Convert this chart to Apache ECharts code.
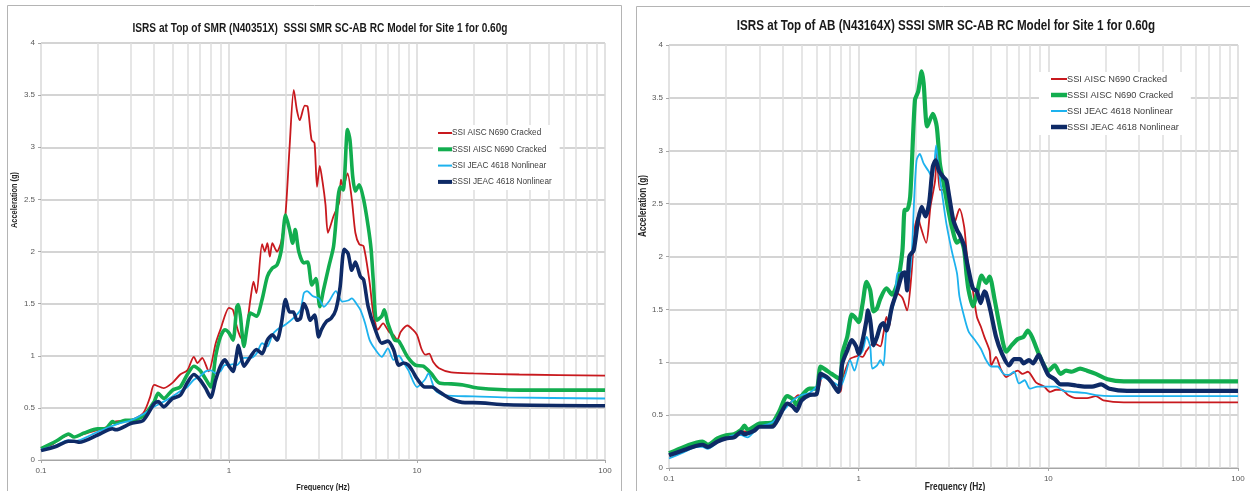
<!DOCTYPE html>
<html><head><meta charset="utf-8">
<script src="https://cdn.jsdelivr.net/npm/echarts@6/dist/echarts.min.js"></script>
<style>html,body{margin:0;padding:0;background:#fff;}#c{width:1250px;height:491px;}</style>
</head><body><div id="c"></div>
<script>
const seriesNames = ['SSI AISC N690 Cracked','SSSI AISC N690 Cracked','SSI JEAC 4618 Nonlinear','SSSI JEAC 4618 Nonlinear'];
const titleLeft = 'ISRS at Top of SMR (N40351X)  SSSI SMR SC-AB RC Model for Site 1 for 0.60g';
const titleRight = 'ISRS at Top of AB (N43164X) SSSI SMR SC-AB RC Model for Site 1 for 0.60g';
const xName = 'Frequency (Hz)';
const yName = 'Acceleration (g)';

// Left panel: [frequency Hz, acceleration g]
const leftSsiAisc = [[0.1,0.11],[0.115,0.15],[0.125,0.2],[0.14,0.24],[0.15,0.22],[0.17,0.25],[0.2,0.29],[0.22,0.31],[0.25,0.37],[0.3,0.38],[0.35,0.45],[0.38,0.6],[0.4,0.72],[0.45,0.69],[0.5,0.74],[0.55,0.82],[0.6,0.86],[0.65,0.99],[0.68,0.93],[0.72,0.98],[0.78,0.85],[0.85,1.12],[0.9,1.25],[1.0,1.46],[1.05,1.44],[1.1,1.28],[1.15,1.18],[1.2,1.15],[1.3,1.54],[1.35,1.71],[1.4,1.6],[1.5,2.07],[1.55,2.0],[1.6,2.08],[1.65,1.95],[1.7,2.08],[1.8,2.0],[1.9,2.1],[2.0,2.37],[2.1,3.0],[2.21,3.55],[2.3,3.35],[2.38,3.26],[2.53,3.40],[2.62,3.39],[2.75,3.07],[2.85,3.04],[2.94,2.62],[3.04,2.82],[3.15,2.66],[3.26,2.45],[3.36,2.18],[3.6,2.34],[3.85,2.47],[3.94,2.69],[4.05,2.62],[4.27,2.75],[4.5,2.5],[4.7,2.18],[4.93,2.07],[5.2,2.05],[5.6,1.7],[5.85,1.41],[6.2,1.25],[6.6,1.31],[7.1,1.23],[7.5,1.2],[7.85,1.15],[8.2,1.23],[8.9,1.29],[9.5,1.25],[10,1.2],[10.6,1.06],[11.1,1.01],[11.6,1.02],[12.2,0.94],[13.1,0.88],[15.2,0.84],[20,0.83],[35,0.82],[100,0.81]];
const leftSssiAisc = [[0.1,0.11],[0.12,0.18],[0.13,0.22],[0.14,0.25],[0.15,0.22],[0.17,0.26],[0.2,0.3],[0.22,0.3],[0.24,0.37],[0.25,0.35],[0.28,0.38],[0.3,0.38],[0.35,0.42],[0.4,0.56],[0.42,0.64],[0.45,0.59],[0.5,0.67],[0.55,0.7],[0.6,0.82],[0.65,0.9],[0.7,0.86],[0.75,0.78],[0.8,0.7],[0.85,1.0],[0.9,1.18],[0.95,1.25],[1.0,1.22],[1.05,1.15],[1.1,1.47],[1.12,1.49],[1.15,1.38],[1.2,1.09],[1.25,1.28],[1.3,1.41],[1.4,1.38],[1.5,1.54],[1.6,1.76],[1.7,1.84],[1.8,1.87],[1.9,2.02],[2.0,2.35],[2.1,2.21],[2.18,2.08],[2.25,2.21],[2.35,2.0],[2.5,1.89],[2.62,1.9],[2.76,1.68],[2.9,1.74],[3.04,1.47],[3.18,1.63],[3.4,1.86],[3.6,2.05],[3.9,2.62],[4.05,2.59],[4.27,3.17],[4.4,3.07],[4.55,2.72],[4.7,2.58],[4.93,2.64],[5.2,2.5],[5.5,2.24],[5.7,2.02],[5.85,1.73],[6.1,1.34],[6.5,1.38],[6.7,1.44],[7.0,1.31],[7.6,1.15],[8.0,1.14],[8.9,0.99],[9.8,0.91],[10.8,0.9],[11.9,0.83],[13.1,0.74],[15.2,0.73],[17.6,0.72],[21,0.69],[35,0.67],[100,0.67]];
const leftSsiJeac = [[0.1,0.1],[0.12,0.14],[0.14,0.19],[0.15,0.18],[0.2,0.27],[0.25,0.34],[0.3,0.38],[0.35,0.44],[0.4,0.51],[0.45,0.56],[0.5,0.61],[0.55,0.66],[0.6,0.7],[0.65,0.77],[0.7,0.8],[0.75,0.85],[0.8,0.86],[0.85,0.83],[0.9,0.85],[0.95,0.91],[1.0,0.91],[1.05,0.92],[1.1,0.91],[1.2,0.98],[1.3,0.98],[1.4,1.02],[1.5,1.12],[1.6,1.09],[1.7,1.2],[1.8,1.25],[2.0,1.3],[2.2,1.36],[2.4,1.44],[2.5,1.6],[2.6,1.62],[2.8,1.57],[3.0,1.55],[3.2,1.47],[3.4,1.52],[3.7,1.62],[4.0,1.52],[4.3,1.53],[4.5,1.55],[4.8,1.49],[5.0,1.44],[5.3,1.31],[5.6,1.15],[6.0,1.06],[6.5,0.99],[7.0,1.07],[7.5,0.96],[8.0,1.0],[8.5,0.93],[9,0.86],[10,0.7],[11,0.77],[11.5,0.83],[12.5,0.67],[14,0.62],[20,0.61],[30,0.6],[100,0.59]];
const leftSssiJeac = [[0.1,0.09],[0.12,0.13],[0.14,0.18],[0.15,0.18],[0.16,0.17],[0.2,0.24],[0.24,0.3],[0.25,0.29],[0.3,0.35],[0.35,0.38],[0.4,0.54],[0.42,0.56],[0.45,0.51],[0.5,0.59],[0.55,0.62],[0.6,0.74],[0.65,0.82],[0.7,0.77],[0.75,0.69],[0.8,0.6],[0.85,0.77],[0.9,0.9],[0.95,0.96],[1.0,0.9],[1.05,0.85],[1.1,1.02],[1.12,1.1],[1.15,1.02],[1.2,0.9],[1.3,0.99],[1.4,1.06],[1.5,1.02],[1.6,1.15],[1.7,1.2],[1.8,1.15],[1.9,1.31],[2.0,1.54],[2.1,1.42],[2.2,1.42],[2.3,1.34],[2.4,1.36],[2.5,1.5],[2.6,1.44],[2.7,1.34],[2.85,1.39],[3.0,1.18],[3.1,1.25],[3.3,1.33],[3.5,1.36],[3.7,1.44],[3.9,1.66],[4.1,2.02],[4.3,1.98],[4.5,1.82],[4.7,1.9],[5.0,1.76],[5.2,1.73],[5.5,1.47],[6.0,1.25],[6.5,1.12],[7.0,1.14],[7.5,1.06],[8.0,0.91],[8.5,0.93],[9,0.91],[9.5,0.85],[10,0.78],[11,0.7],[12,0.7],[13,0.66],[15,0.59],[18,0.55],[20,0.55],[30,0.53],[100,0.52]];

// Right panel: [frequency Hz, acceleration g]
const rightSsiAisc = [[0.1,0.12],[0.12,0.17],[0.14,0.21],[0.15,0.22],[0.16,0.2],[0.18,0.25],[0.2,0.28],[0.22,0.3],[0.24,0.35],[0.26,0.34],[0.3,0.39],[0.35,0.41],[0.4,0.55],[0.45,0.64],[0.48,0.69],[0.5,0.68],[0.55,0.69],[0.6,0.7],[0.65,0.88],[0.7,0.83],[0.8,0.72],[0.82,0.84],[0.9,1.03],[0.95,1.05],[1.0,1.06],[1.05,1.05],[1.1,1.11],[1.2,1.18],[1.3,1.15],[1.35,1.27],[1.4,1.43],[1.45,1.34],[1.5,1.54],[1.6,1.65],[1.7,1.61],[1.8,1.49],[1.9,1.84],[1.98,2.28],[2.06,2.38],[2.1,2.31],[2.27,2.13],[2.39,2.47],[2.53,2.72],[2.58,2.98],[2.68,2.63],[2.8,2.63],[2.95,2.5],[3.18,2.31],[3.4,2.45],[3.6,2.28],[3.7,2.06],[3.8,1.9],[4.0,1.68],[4.2,1.43],[4.4,1.34],[4.6,1.24],[4.9,1.11],[5.0,0.97],[5.3,1.05],[5.6,0.94],[6.0,0.86],[6.4,0.89],[6.9,0.92],[7.3,0.89],[7.8,0.91],[8.6,0.81],[9.5,0.77],[10.2,0.72],[11,0.74],[11.8,0.74],[12.7,0.69],[14,0.66],[16,0.66],[17.8,0.68],[19.5,0.64],[25,0.62],[100,0.62]];
const rightSssiAisc = [[0.1,0.14],[0.12,0.2],[0.14,0.24],[0.15,0.25],[0.16,0.22],[0.18,0.28],[0.2,0.31],[0.22,0.32],[0.24,0.36],[0.25,0.4],[0.26,0.36],[0.3,0.42],[0.35,0.43],[0.38,0.53],[0.42,0.68],[0.45,0.65],[0.47,0.6],[0.5,0.68],[0.55,0.75],[0.6,0.75],[0.63,0.96],[0.68,0.92],[0.72,0.89],[0.8,0.84],[0.82,1.08],[0.87,1.24],[0.92,1.45],[0.95,1.43],[1.0,1.38],[1.05,1.56],[1.1,1.76],[1.15,1.68],[1.2,1.48],[1.25,1.51],[1.3,1.6],[1.4,1.7],[1.5,1.64],[1.6,1.75],[1.7,2.05],[1.75,2.44],[1.8,2.44],[1.87,2.57],[1.98,3.48],[2.06,3.56],[2.15,3.75],[2.2,3.64],[2.3,3.23],[2.46,3.35],[2.58,3.23],[2.68,2.88],[2.8,2.7],[2.95,2.47],[3.1,2.28],[3.3,2.13],[3.45,2.16],[3.6,2.06],[3.7,1.84],[3.8,1.68],[4.0,1.53],[4.2,1.65],[4.45,1.82],[4.7,1.75],[4.9,1.81],[5.2,1.6],[5.6,1.3],[6.0,1.1],[6.4,1.16],[6.9,1.22],[7.4,1.24],[7.8,1.3],[8.2,1.24],[8.9,1.08],[9.5,0.97],[10,0.92],[10.8,0.97],[11.6,0.89],[12.4,0.92],[13.3,0.91],[14.7,0.94],[16,0.92],[17.8,0.89],[20.5,0.84],[25,0.82],[100,0.82]];
const rightSsiJeac = [[0.1,0.09],[0.12,0.15],[0.14,0.2],[0.15,0.2],[0.16,0.18],[0.18,0.24],[0.2,0.28],[0.22,0.31],[0.24,0.31],[0.26,0.29],[0.28,0.34],[0.3,0.39],[0.35,0.43],[0.4,0.54],[0.45,0.64],[0.5,0.69],[0.55,0.71],[0.6,0.77],[0.65,0.86],[0.7,0.83],[0.75,0.8],[0.8,0.77],[0.85,0.88],[0.9,1.02],[0.95,0.92],[1.0,1.05],[1.05,1.11],[1.1,1.24],[1.15,1.15],[1.18,0.94],[1.25,0.97],[1.3,1.02],[1.35,0.97],[1.4,1.3],[1.5,1.49],[1.55,1.59],[1.6,1.84],[1.7,1.85],[1.8,1.71],[1.9,2.0],[1.96,2.53],[2.02,2.91],[2.1,2.97],[2.2,2.88],[2.33,2.81],[2.44,2.75],[2.5,2.85],[2.56,3.05],[2.63,2.85],[2.75,2.6],[2.9,2.31],[3.1,2.05],[3.3,1.84],[3.4,1.62],[3.6,1.43],[3.8,1.29],[4.1,1.21],[4.4,1.13],[4.7,1.02],[5.0,0.96],[5.4,0.96],[5.8,0.89],[6.2,0.88],[6.6,0.91],[7.0,0.8],[7.5,0.83],[8.0,0.75],[8.8,0.77],[10,0.77],[11,0.77],[12,0.73],[13.3,0.72],[15.5,0.71],[17.8,0.69],[21.5,0.68],[100,0.68]];
const rightSssiJeac = [[0.1,0.12],[0.12,0.17],[0.14,0.21],[0.15,0.22],[0.16,0.2],[0.18,0.25],[0.2,0.28],[0.22,0.29],[0.24,0.34],[0.25,0.32],[0.28,0.35],[0.3,0.39],[0.35,0.39],[0.38,0.48],[0.42,0.61],[0.45,0.58],[0.47,0.54],[0.5,0.64],[0.55,0.69],[0.6,0.7],[0.63,0.89],[0.68,0.86],[0.72,0.81],[0.78,0.72],[0.82,0.99],[0.87,1.11],[0.92,1.21],[0.97,1.15],[1.0,1.08],[1.05,1.21],[1.1,1.4],[1.12,1.49],[1.15,1.4],[1.2,1.16],[1.25,1.24],[1.3,1.34],[1.35,1.37],[1.4,1.3],[1.5,1.53],[1.6,1.68],[1.7,1.84],[1.75,1.85],[1.8,1.68],[1.85,2.0],[1.95,2.06],[2.06,2.35],[2.15,2.47],[2.25,2.38],[2.35,2.5],[2.46,2.85],[2.55,2.91],[2.65,2.81],[2.8,2.75],[2.9,2.72],[3.0,2.57],[3.15,2.35],[3.3,2.25],[3.4,2.21],[3.6,2.1],[3.65,2.03],[3.8,1.87],[4.0,1.7],[4.2,1.67],[4.4,1.56],[4.6,1.67],[4.7,1.65],[4.95,1.49],[5.3,1.24],[5.7,1.08],[6.2,0.97],[6.6,1.03],[7.1,1.03],[7.4,0.99],[7.9,1.02],[8.3,0.99],[8.9,1.07],[9.3,1.0],[10,0.88],[10.8,0.84],[11.6,0.79],[12.7,0.79],[14,0.78],[15.5,0.77],[17,0.77],[19,0.79],[21,0.75],[26,0.73],[100,0.73]];

const colors = ['#C8191E','#12AD4F','#1DB2EE','#0E2A66'];
const leftData = [leftSsiAisc, leftSssiAisc, leftSsiJeac, leftSssiJeac];
const rightData = [rightSsiAisc, rightSssiAisc, rightSsiJeac, rightSssiJeac];
const leftWidths = [1.8, 3.6, 1.8, 3.6];
const rightWidths = [1.8, 4.2, 1.8, 4.2];

const FONT = '"Liberation Sans", Arial, sans-serif';

function xAxisCfg(gi) {
  return {
    type: 'log', logBase: 10, min: 0.1, max: 100, gridIndex: gi,
    axisLine: { show: true, onZero: false, lineStyle: { color: '#a6a6a6', width: 1 } },
    axisTick: { show: true, length: 3, lineStyle: { color: '#a6a6a6' } },
    axisLabel: { fontFamily: FONT, fontSize: 8, color: '#595959', margin: 7 },
    splitLine: { show: true, lineStyle: { color: '#d9d9d9', width: 1.5 } },
    minorTick: { show: false, splitNumber: 9 },
    minorSplitLine: { show: true, lineStyle: { color: '#dedede', width: 1.5 } }
  };
}
function yAxisCfg(gi) {
  return {
    type: 'value', min: 0, max: 4, interval: 0.5, gridIndex: gi,
    axisLine: { show: false },
    axisTick: { show: true, length: 3, lineStyle: { color: '#a6a6a6' } },
    axisLabel: { fontFamily: FONT, fontSize: 8, color: '#595959', margin: 6 },
    splitLine: { show: true, lineStyle: { color: '#c6c6c6', width: 1.5 } }
  };
}

const series = [];
leftData.forEach((d, i) => series.push({
  name: seriesNames[i], type: 'line', xAxisIndex: 0, yAxisIndex: 0, data: d,
  showSymbol: false, symbol: 'none', smooth: 0.25, z: 2 + i,
  lineStyle: { color: colors[i], width: leftWidths[i] }, itemStyle: { color: colors[i] }
}));
rightData.forEach((d, i) => series.push({
  name: seriesNames[i], type: 'line', xAxisIndex: 1, yAxisIndex: 1, data: d,
  showSymbol: false, symbol: 'none', smooth: 0.25, z: 2 + i,
  lineStyle: { color: colors[i], width: rightWidths[i] }, itemStyle: { color: colors[i] }
}));

function legendItems(w, thin, thick) {
  return seriesNames.map((n, i) => ({
    name: n,
    icon: 'path://M0,0H' + w + 'V' + (i % 2 ? thick : thin) + 'H0Z'
  }));
}

function label(text, x, y, size, sx, rot, color) {
  return {
    type: 'text', x: x, y: y, scaleX: sx, rotation: rot || 0, z: 20,
    style: { text: text, font: 'bold ' + size + 'px ' + FONT, fill: color || '#262626',
             textAlign: 'center', textVerticalAlign: 'middle' }
  };
}

const chart = echarts.init(document.getElementById('c'), null, { renderer: 'canvas' });
chart.setOption({
  animation: false,
  backgroundColor: '#fff',
  graphic: [
    { type: 'rect', shape: { x: 7.5, y: 5.5, width: 614, height: 600 }, style: { fill: 'none', stroke: '#b4b4b4', lineWidth: 1 }, z: 0 },
    { type: 'rect', shape: { x: 636.5, y: 6.5, width: 700, height: 600 }, style: { fill: 'none', stroke: '#b4b4b4', lineWidth: 1 }, z: 0 },
    label(titleLeft, 320, 28.5, 13.5, 0.75, 0, '#1a1a1a'),
    label(titleRight, 946, 26, 15, 0.775, 0, '#1a1a1a'),
    label(yName, 14, 200, 9.5, 0.78, Math.PI / 2, '#262626'),
    label(yName, 643, 206, 10.5, 0.78, Math.PI / 2, '#262626'),
    label(xName, 323, 487, 9.5, 0.78, 0, '#262626'),
    label(xName, 955, 487, 10.5, 0.8, 0, '#262626')
  ],
  legend: [
    { orient: 'vertical', left: 433, top: 125, padding: [2, 8, 2, 5], itemGap: 4.3,
      itemWidth: 14, itemHeight: 12, backgroundColor: '#fff', z: 10,
      data: legendItems(14, 2, 4),
      textStyle: { fontFamily: FONT, fontSize: 8.2, color: '#404040', padding: [0, 0, 0, -5], lineHeight: 12 } },
    { orient: 'vertical', left: 1039, top: 72, padding: [1, 12, 2, 12], itemGap: 4,
      itemWidth: 16, itemHeight: 12, backgroundColor: '#fff', z: 10,
      data: legendItems(16, 2, 4.5),
      textStyle: { fontFamily: FONT, fontSize: 9.2, color: '#404040', padding: [0, 0, 0, -5], lineHeight: 12 } }
  ],
  grid: [
    { left: 41, top: 43, width: 564, height: 417, containLabel: false },
    { left: 669, top: 45, width: 569, height: 423, containLabel: false }
  ],
  xAxis: [xAxisCfg(0), xAxisCfg(1)],
  yAxis: [yAxisCfg(0), yAxisCfg(1)],
  series: series
});
</script></body></html>
